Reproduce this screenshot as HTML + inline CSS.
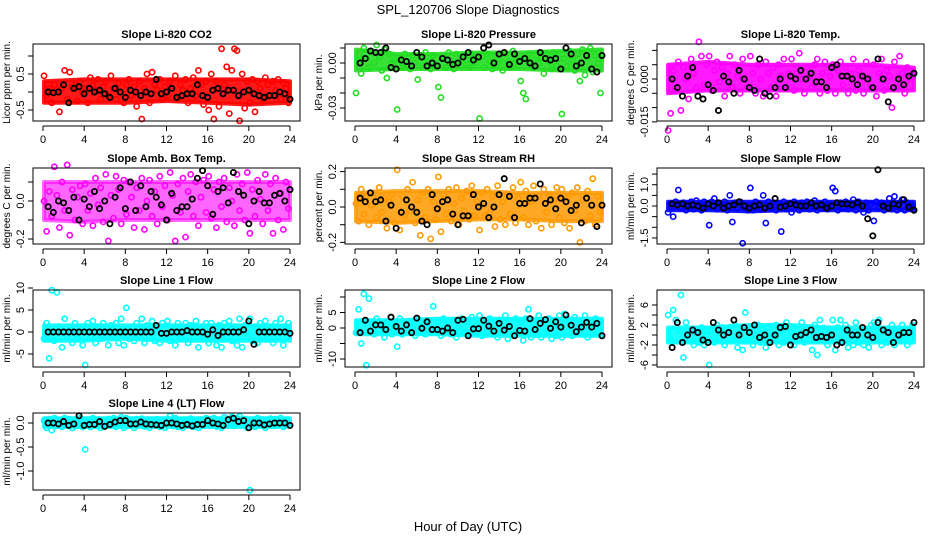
<!DOCTYPE html>
<html><head><meta charset="utf-8"><style>
html,body{margin:0;padding:0;background:#fff}
svg{display:block}
text{font-family:"Liberation Sans",sans-serif}
</style></head><body>
<svg id="chart" width="936" height="540" viewBox="0 0 936 540" xmlns="http://www.w3.org/2000/svg">
<text x="468" y="14" text-anchor="middle" font-size="13">SPL_120706  Slope Diagnostics</text>
<text x="468" y="531" text-anchor="middle" font-size="13">Hour of Day (UTC)</text>
</svg>
<script>
const xTicks=[0,4,8,12,16,20,24];
const bandHours=[0,4,8,12,16,20,24];
const titles=["Slope Li-820 CO2","Slope Li-820 Pressure","Slope Li-820 Temp.","Slope Amb. Box Temp.","Slope Gas Stream RH","Slope Sample Flow","Slope Line 1 Flow","Slope Line 2 Flow","Slope Line 3 Flow","Slope Line 4 (LT) Flow"];
const units=["Licor ppm per min.","kPa per min.","degrees C per min.","degrees C per min.","percent per min.","ml/min per min.","ml/min per min.","ml/min per min.","ml/min per min.","ml/min per min."];
const yTicks=[[1,0.5,0,-0.5],[0.01,0,-0.01,-0.02,-0.03],[0.01,0.005,0,-0.005,-0.01,-0.015],[0.1,0,-0.1,-0.2],[0.2,0.1,0,-0.1,-0.2],[1.5,1,0.5,0,-0.5,-1,-1.5],[10,5,0,-5],[10,5,0,-5,-10],[6,4,2,0,-2,-4,-6],[0,-0.5,-1]];
const yLabels=[["","0.5","","-0.5"],["","0.00","","","-0.03"],["","","0.000","","","-0.015"],["","0.0","","-0.2"],["0.2","","0.0","","-0.2"],["","1.0","","0.0","","","-1.5"],["10","5","0","-5"],["","5","0","","-10"],["6","","2","","-2","","-6"],["0.0","-0.5","-1.0"]];
const co2Vals=[0.45,-0.1,0.1,-0.3,0.2,0.05,-0.55,0.1,0.6,-0.2,0.55,0.15,0.2,-0.25,0.3,0.0,0.1,-0.3,0.4,0.2,0.05,0.35,-0.2,0.15,0.3,-0.1,0.45,0.1,-0.2,0.25,0.0,-0.3,0.2,0.35,-0.1,0.15,-0.4,0.3,-0.75,0.1,0.5,-0.3,0.55,0.2,0.05,0.35,-0.2,0.15,-0.1,0.3,0.1,0.45,-0.2,0.2,0.05,0.35,-0.3,0.1,0.4,-0.1,0.6,0.2,-0.35,0.3,-0.5,0.5,-0.75,0.3,-0.4,1.2,0.2,0.7,-0.6,0.6,1.2,1.15,-0.8,0.5,-0.45,0.3,-0.3,0.35,-0.55,0.3,0.1,-0.2,0.4,0.2,-0.1,0.3,0.05,0.35,-0.2,0.25,0.1,-0.3];
const co2Mean=[0.0,-0.02,0.0,0.2,-0.3,0.1,0.15,-0.05,0.1,0.0,0.05,-0.05,-0.15,0.1,0.0,-0.15,0.05,0.0,-0.1,0.0,-0.05,0.35,-0.05,0.0,0.1,-0.15,-0.1,-0.05,-0.05,0.2,-0.1,-0.15,0.05,0.1,-0.05,0.05,0.05,-0.1,0.0,0.05,-0.05,-0.1,-0.15,-0.1,-0.1,0.0,-0.05,-0.2];
const presVals=[-0.02,0.005,-0.007,0.01,0.003,-0.003,0.008,0.0,0.012,0.004,-0.005,0.009,-0.01,0.006,0.0,0.002,-0.031,0.003,-0.003,0.006,0.001,-0.004,0.005,0.0,-0.011,0.004,-0.002,0.007,0.001,-0.004,0.005,-0.002,-0.016,-0.023,0.004,-0.003,0.007,0.001,-0.004,0.006,0.0,-0.002,0.005,0.002,-0.003,0.006,0.0,0.003,-0.037,0.004,-0.003,0.006,0.001,-0.004,0.005,0.0,0.003,-0.005,0.006,0.001,-0.003,0.008,0.0,0.002,-0.012,-0.02,-0.024,0.006,0.001,-0.003,0.005,0.0,0.003,-0.007,0.006,0.001,-0.004,0.007,-0.002,0.003,-0.034,0.003,-0.002,0.008,0.002,-0.005,0.006,-0.012,0.009,-0.008,0.004,0.01,-0.006,0.005,0.0,-0.02];
const presMean=[0.0,0.003,0.008,0.007,0.007,0.01,-0.003,-0.004,0.002,0.001,-0.002,0.007,0.004,-0.002,0.0,-0.002,0.003,0.002,-0.001,0.0,0.004,0.007,0.002,0.004,0.01,0.012,0.0,0.006,0.007,-0.001,0.006,0.001,0.003,0.0,-0.002,0.007,0.003,0.002,0.003,-0.004,0.01,0.006,-0.002,0.0,0.005,-0.004,-0.006,0.005];
const tempVals=[-0.018,-0.012,0.003,-0.004,0.006,-0.011,0.004,0.0,-0.007,0.007,0.002,-0.003,0.013,0.008,-0.002,0.005,0.008,-0.004,0.003,0.006,-0.001,0.004,-0.006,0.002,0.008,-0.003,0.005,0.001,-0.005,0.007,0.0,-0.003,0.008,0.002,-0.005,0.005,0.0,-0.006,0.006,0.002,-0.003,0.004,-0.006,0.005,0.001,0.007,-0.003,0.002,0.007,-0.004,0.002,0.009,0.0,-0.005,0.004,0.001,-0.003,0.005,0.007,-0.005,0.002,0.006,-0.004,0.001,0.005,-0.005,0.003,0.006,-0.002,0.004,-0.005,0.002,0.007,-0.004,0.003,0.001,-0.005,0.006,0.0,-0.003,0.005,-0.006,0.002,0.007,-0.004,0.003,0.001,-0.01,0.006,-0.003,0.008,0.002,-0.005,0.004,0.0,0.001];
const tempMean=[0.0,-0.003,-0.006,0.001,0.004,-0.006,-0.007,-0.002,-0.004,-0.011,0.001,-0.001,-0.005,0.003,0.0,-0.003,-0.004,0.007,-0.005,-0.006,-0.003,0.0,-0.003,0.001,0.0,0.003,0.0,0.002,-0.001,-0.001,-0.003,0.004,0.005,0.001,0.001,0.0,-0.002,0.001,0.0,-0.003,0.007,0.0,-0.008,-0.003,0.0,-0.002,0.001,0.002];
const ambVals=[0.0,-0.16,0.05,-0.08,0.18,0.03,-0.14,0.1,-0.05,0.19,-0.18,0.06,-0.1,0.02,0.08,-0.12,0.09,-0.05,0.04,-0.13,0.12,-0.02,0.07,-0.11,0.14,-0.21,0.03,-0.09,0.13,0.06,-0.12,0.11,-0.07,0.1,0.02,-0.14,0.07,-0.05,0.12,-0.15,0.0,0.11,-0.08,0.05,-0.12,0.13,-0.03,0.08,-0.1,0.15,0.03,-0.21,0.09,-0.06,0.12,-0.19,0.05,0.14,-0.08,0.1,-0.13,0.02,0.11,-0.06,0.13,-0.09,0.06,-0.14,0.1,-0.03,0.12,-0.11,0.07,0.0,-0.13,0.14,-0.05,0.09,-0.1,0.15,-0.17,0.06,-0.08,0.11,0.01,-0.12,0.14,-0.05,0.09,-0.17,0.12,-0.1,0.04,-0.15,0.1,-0.04];
const ambMean=[-0.03,-0.06,0.0,-0.01,-0.05,0.02,-0.1,0.01,-0.03,0.05,-0.04,0.0,-0.12,0.02,0.07,-0.04,0.1,-0.05,0.08,-0.03,0.05,0.02,-0.02,-0.1,0.04,-0.05,-0.03,-0.03,0.01,0.12,0.16,0.08,-0.07,0.05,0.07,-0.01,0.15,0.05,0.03,-0.12,0.0,0.05,-0.01,-0.01,0.03,0.04,0.0,0.06];
const rhVals=[0.02,-0.08,0.1,-0.04,0.06,-0.1,0.01,0.08,-0.06,0.11,-0.03,0.05,-0.12,0.03,0.07,-0.09,0.21,-0.13,0.06,-0.05,0.1,-0.02,0.14,-0.09,0.04,-0.16,0.08,-0.06,0.1,-0.18,0.03,-0.07,0.17,-0.14,0.07,-0.04,0.1,-0.08,0.02,0.11,-0.1,0.05,-0.02,0.09,-0.07,0.12,-0.05,0.03,-0.13,0.08,-0.05,0.1,-0.03,0.06,-0.11,0.12,-0.07,0.03,-0.1,0.07,-0.04,0.11,-0.09,0.05,0.14,-0.06,0.09,-0.1,0.03,0.12,-0.08,0.06,-0.12,0.1,-0.03,0.07,-0.1,0.04,0.11,-0.06,0.1,-0.09,0.05,-0.12,0.08,-0.02,0.11,-0.2,0.04,-0.08,0.09,-0.05,0.16,-0.1,0.06,-0.03];
const rhMean=[0.05,0.03,0.08,0.03,0.04,-0.08,0.01,-0.12,-0.03,0.04,0.0,-0.03,-0.08,-0.1,0.07,-0.01,0.03,0.04,-0.04,-0.1,-0.05,-0.05,0.07,0.0,0.02,-0.06,0.0,0.07,0.16,0.06,-0.06,0.02,0.02,0.05,0.05,0.13,0.02,0.04,-0.01,0.05,0.03,-0.02,0.01,-0.09,0.05,0.01,-0.11,0.01];
const sampVals=[-0.3,0.1,-0.5,0.2,0.75,-0.1,0.15,-0.2,0.1,0.2,-0.15,0.25,0.0,-0.2,0.2,-0.1,-0.9,0.2,0.35,-0.15,0.1,-0.1,0.2,-0.2,0.5,-0.75,0.15,-0.1,0.2,-1.75,0.05,-0.2,0.85,-0.2,0.2,0.1,-0.15,0.5,-0.8,0.2,-0.1,0.15,-0.2,0.1,-1.2,0.2,-0.15,0.1,-0.3,0.2,0.1,-0.2,0.15,-0.1,0.2,-0.15,0.1,0.25,-0.2,0.1,-0.1,0.2,-0.15,0.1,0.85,0.7,-0.2,0.15,-0.1,0.2,-0.15,0.1,0.3,-0.2,0.2,-0.1,-0.3,0.15,-0.2,0.1,-0.7,0.2,-0.1,0.15,-0.2,0.1,0.35,-0.15,0.45,-0.2,0.1,0.3,-0.2,0.15,-0.1,0.0];
const sampMean=[0.1,0.05,0.1,0.0,0.05,0.0,-0.1,0.1,0.0,0.15,-0.1,0.0,0.05,0.2,0.0,-0.1,0.0,0.05,-0.1,0.0,0.35,-0.05,0.0,0.1,0.05,0.0,0.0,0.15,0.0,0.05,-0.1,0.0,0.15,0.1,0.1,0.05,0.15,0.0,-0.6,-1.4,1.7,0.0,-0.1,0.1,0.05,0.3,-0.05,-0.2];
const l1Vals=[-1.5,2,-6,9.5,-2,9,1,-3.5,3,-1,0.5,-2.5,2,-1.5,1,-3,-7.5,2,-1,2.5,-2.5,1,-1.5,2,0,-3,1.5,-1,2,-2.5,3,-3,5.5,-1.5,1,-2,2,-1,3,-2.5,1.5,-1,2.5,-2,1,-2.5,2,-1,2.5,-2,1,-3,2,-1.5,0.5,2,-2.5,1.5,-1,2.5,-3.5,1,-1.5,2,-2.5,2,-1,-3,1.5,-3.5,2,-1,2.5,-2,1,-3,3,-3.5,1.5,-1,3,-2,1,-2.5,2,-1,2.5,-1.5,1,-2.5,2,-1,3,-3,1,2];
const l1Mean=[0,0,0,0,0,0,0,0,0,0,0,0,0,0,0,0,0,0,0,0,0,1.5,-0.3,-0.3,0,0,0,0.3,0,0,0,-0.5,0.5,-0.8,0,0,0,0,0.5,2.5,-2.8,0,0,0,0,0,0,-0.3];
const l2Vals=[-1.5,6,-5,11,-12,9.5,2,-2,3,-1,1,-3,2,0,-2,1,-6,3,-2,1,-1,2,0,-2.5,3,-1.5,1,-2,2.5,-1,7,0,2,-2.5,3,-1,1.5,-2,2.5,-3,0,3,-1.5,2,-2,3.5,-1,1,4,-2.5,2,-1,3,-2,1,-3,2.5,-1,4,-3.5,1,-2,3,-1,2,-4,3,6,-3,1,-2,4,-3,2,-1,3,-3.5,1,-2.5,4,-3,4.5,-1,2,-2.5,3.5,-1,1,-2,4,-3,1.5,-2,3,-1,2];
const l2Mean=[-1.5,2.5,-1,1,1,-0.5,3.5,0.5,-1,1,-1.5,3.2,-0.1,2,-0.5,-0.5,-1,0,-1.5,2.5,2.8,-2.5,-0.3,-0.2,2.5,0.6,-1,1.5,-0.7,0.5,-2.5,-0.8,-1,3,-0.5,1.5,2.7,-0.1,2,0.3,4.2,0.9,-1.2,0.3,1.8,0.3,1.5,-2.5];
const l3Vals=[4,-1,5,3,1,8,-4.5,2.5,-1,1,-2,0.5,-1.5,1.5,-2,0,-6,1,-1.5,2,-0.5,1.5,-2,0.5,1.5,-1,2,-2.5,0.5,-3,4.5,-1,1.5,-2,0,2,-1.5,1,-2.5,1.5,-1,0,2,-2,1,-1.5,2.5,-1,0.5,-2,1,-1,2.5,-1.5,1,0,-3,2,-4,3,-1,1,-2,0.5,3,-3,1.5,3,-1,2,-2.5,1,-2,2.5,-1.5,0.5,-2,1,-2.5,2,2.5,-1,3,-2,1,-1.5,0.5,2,-2,1,-1,2,0,-2,1,2];
const l3Mean=[-2.5,2.5,-1.5,0,1,0.5,-1,-1.5,2.5,1,0,0.5,3,0,1.5,0.5,2,-0.5,0,-1.5,0,1.5,1.7,-2,-0.3,0,0.5,1,-0.5,-0.3,-0.5,0,-2,-1.5,1,0,0,1.5,0,-0.5,2.5,1,0.5,-1.5,0,0.5,0.5,2.5];
const l4Vals=[0.05,-0.1,0.08,-0.15,0.1,-0.05,0.06,-0.08,0.1,-0.04,0.08,-0.1,0.05,-0.06,0.1,-0.08,-0.55,0.05,-0.08,0.1,-0.05,0.07,-0.1,0.05,-0.06,0.08,-0.03,0.1,-0.08,0.05,0.12,-0.1,0.1,-0.05,0.06,-0.1,0.08,-0.03,0.09,-0.07,0.05,-0.1,0.07,-0.04,0.08,-0.08,0.05,-0.1,0.08,0.15,-0.06,0.1,-0.08,0.05,-0.1,0.07,-0.05,0.09,-0.08,0.04,-0.1,0.07,-0.06,0.1,0.08,-0.05,0.1,-0.07,0.05,-0.1,0.12,-0.04,0.08,0.13,-0.06,0.1,0.14,-0.05,0.08,-0.1,-1.4,0.06,-0.08,0.1,-0.05,0.07,-0.1,0.05,0.09,-0.06,0.08,-0.04,0.1,-0.08,0.06,-0.05];
const l4Mean=[0,0,-0.02,0.03,-0.05,-0.02,0.15,-0.05,-0.03,-0.03,0.03,-0.07,-0.03,0.02,0.05,0.05,-0.02,-0.02,0.02,-0.02,-0.03,-0.04,-0.05,0,0,-0.02,-0.05,-0.03,-0.06,-0.03,-0.03,0.05,0,-0.02,-0.05,0.07,0.1,0.03,0.05,-0.1,0,0,-0.04,-0.02,0,0,0,-0.05];
// dense-cloud envelopes (value at bandHours)
const co2Lo=[-0.3,-0.3,-0.3,-0.25,-0.3,-0.35,-0.3], co2Hi=[0.3,0.35,0.35,0.35,0.35,0.35,0.3];
const presLo=[-0.005,-0.004,-0.004,-0.004,-0.004,-0.005,-0.005], presHi=[0.009,0.006,0.006,0.007,0.007,0.008,0.009];
const tempLo=[-0.005,-0.004,-0.004,-0.004,-0.004,-0.004,-0.004], tempHi=[0.005,0.006,0.005,0.005,0.005,0.005,0.004];
const ambLo=[-0.1,-0.11,-0.1,-0.1,-0.1,-0.1,-0.1], ambHi=[0.1,0.1,0.1,0.1,0.1,0.1,0.1];
const rhLo=[-0.08,-0.09,-0.08,-0.07,-0.07,-0.08,-0.08], rhHi=[0.08,0.09,0.09,0.09,0.08,0.08,0.08];
const sampLo=[-0.2,-0.2,-0.25,-0.2,-0.2,-0.2,-0.2], sampHi=[0.2,0.2,0.2,0.2,0.2,0.2,0.2];
const l1Lo=[-2,-2,-1.5,-2,-2,-2,-2], l1Hi=[1.5,1.5,1.5,1.5,1.5,1.5,1.5];
const l2Lo=[-2,-2,-2,-2.5,-2.5,-2.5,-2.5], l2Hi=[2.5,2.5,3,3,3,3,3];
const l3Lo=[-1.5,-1.5,-1.5,-1.5,-1.5,-1.5,-1.5], l3Hi=[1.5,1.5,2,2,1.5,1.5,1.5];
const l4Lo=[-0.08,-0.08,-0.08,-0.08,-0.08,-0.08,-0.08], l4Hi=[0.1,0.1,0.1,0.1,0.1,0.1,0.1];

const rawSeries=[co2Vals,presVals,tempVals,ambVals,rhVals,sampVals,l1Vals,l2Vals,l3Vals,l4Vals];
const meanSeries=[co2Mean,presMean,tempMean,ambMean,rhMean,sampMean,l1Mean,l2Mean,l3Mean,l4Mean];
const loSeries=[co2Lo,presLo,tempLo,ambLo,rhLo,sampLo,l1Lo,l2Lo,l3Lo,l4Lo];
const hiSeries=[co2Hi,presHi,tempHi,ambHi,rhHi,sampHi,l1Hi,l2Hi,l3Hi,l4Hi];
// layout / styling
const colors=["#ff0000","#22dd22","#ff00ff","#ff00ff","#ff9900","#0000ff","#00ffff","#00ffff","#00ffff","#00ffff"];
const bandOpacity=[0.9,0.9,0.9,0.6,0.85,0.9,0.9,0.9,0.9,0.9];
const rowTop=[44,168,290,413],rowBot=[121,244,367,490];
const yZero=[92,63,79,201,207,206,332,328,335,423];
const yPpu=[36,1500,2860,190,177,21.3,4.4,3.1,5,48];
const NS="http://www.w3.org/2000/svg";
const svg=document.getElementById('chart');
function mk(tag,attrs,parent){const e=document.createElementNS(NS,tag);for(const k in attrs)e.setAttribute(k,attrs[k]);(parent||svg).appendChild(e);return e;}
titles.forEach((t,p)=>{
  const r=Math.floor(p/3),c=p%3,L=33+312*c,R=300+312*c,T=rowTop[r],B=rowBot[r];
  const xs=h=>43+312*c+h*247/24;
  const ys=v=>yZero[p]-v*yPpu[p];
  const g=mk('g',{});
  
  
  const tt=mk('text',{x:(L+R)/2,y:T-6,'text-anchor':'middle','font-size':11,'font-weight':'bold'},g);tt.textContent=t;
  
  
  const yt=mk('text',{transform:`translate(${L-23},${(T+B)/2}) rotate(-90)`,'text-anchor':'middle','font-size':10},g);yt.textContent=units[p];
  
  
  const lo=loSeries[p],hi=hiSeries[p];
  let d='';
  bandHours.forEach((h,i)=>{d+=(i?'L':'M')+xs(h===0?0.1:h)+','+ys(hi[i]);});
  for(let i=bandHours.length-1;i>=0;i--){const h=bandHours[i];d+='L'+xs(h===0?0.1:h)+','+ys(lo[i]);}
  const band=mk('path',{d:d+'Z',fill:colors[p],'fill-opacity':bandOpacity[p],stroke:colors[p],'stroke-width':4,'stroke-linejoin':'round','stroke-opacity':bandOpacity[p]},g);
  
  
  const pts=mk('g',{fill:'none','stroke-width':1.6},g);
  
  
  const vals=rawSeries[p];
  vals.forEach((v,i)=>{const ci=mk('circle',{cx:xs(i*24/vals.length+0.1),cy:ys(v),r:2.6,stroke:colors[p]},pts);
    
    });
  const mp=mk('g',{fill:'none','stroke-width':1.8,stroke:'#000'},g);
  
  
  meanSeries[p].forEach((v,i)=>{const ci=mk('circle',{cx:xs(i*0.5+0.5),cy:ys(v),r:2.6},mp);
    
    });
  const box=mk('rect',{x:L,y:T,width:R-L,height:B-T,fill:'none',stroke:'#000','stroke-width':1},g);
  
  
  const ax=mk('g',{stroke:'#000','stroke-width':1},g);
  
  
  mk('line',{x1:xs(0),x2:xs(24),y1:B+5,y2:B+5},ax);
  xTicks.forEach(h=>{mk('line',{x1:xs(h),x2:xs(h),y1:B+5,y2:B+10},ax);
    const lt=mk('text',{x:xs(h),y:B+22,'text-anchor':'middle','font-size':11,stroke:'none'},ax);lt.textContent=h;});
  const ay=mk('g',{stroke:'#000','stroke-width':1},g);
  
  
  yTicks[p].forEach((v,i)=>{const y=ys(v);mk('line',{x1:L-5,x2:L,y1:y,y2:y},ay);
    if(yLabels[p][i]){const lt=mk('text',{transform:`translate(${L-9},${y}) rotate(-90)`,'text-anchor':'middle','font-size':11,stroke:'none'},ay);lt.textContent=yLabels[p][i];}});
});
</script>
</body></html>
